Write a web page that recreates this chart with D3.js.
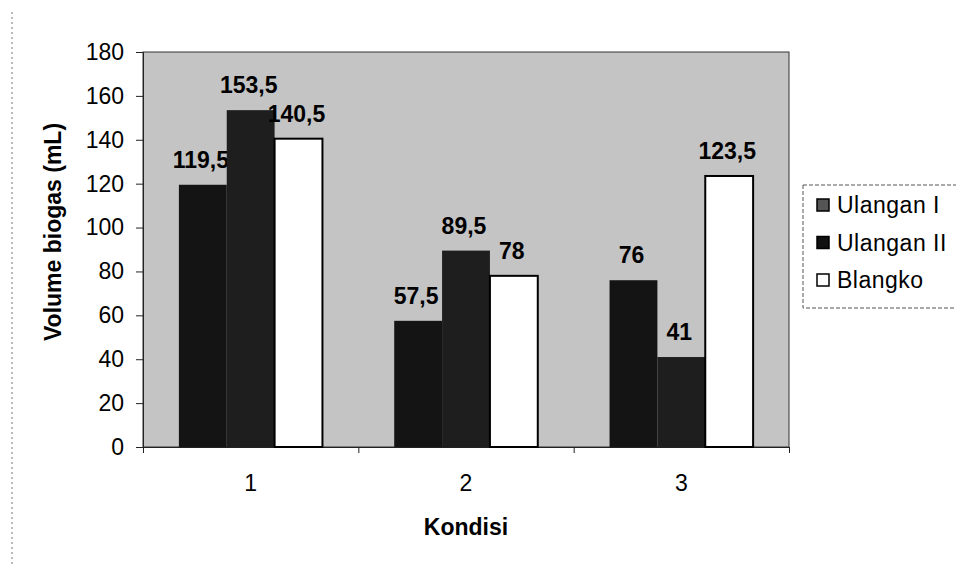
<!DOCTYPE html>
<html>
<head>
<meta charset="utf-8">
<script src="https://cdn.jsdelivr.net/npm/d3@7"></script>
<style>
  body { margin: 0; background: #fff; }
  text { font-family: "Liberation Sans", Arial, sans-serif; fill: #000; }
</style>
</head>
<body>
<svg id="chart" width="956" height="567"></svg>
<script>
const categories = ["1", "2", "3"];
const seriesNames = ["Ulangan I", "Ulangan II", "Blangko"];
const ulanganI = [119.5, 57.5, 76];
const ulanganII = [153.5, 89.5, 41];
const blangko = [140.5, 78, 123.5];
const yTicks = [0, 20, 40, 60, 80, 100, 120, 140, 160, 180];

const seriesValues = [ulanganI, ulanganII, blangko];
const fills = ["#141414", "#1e1e1e", "#ffffff"];

const svg = d3.select("#chart");
const plot = {left: 143, right: 789, top: 52, bottom: 447};

// faint scanned page edge
svg.append("line")
  .attr("x1", 12).attr("x2", 12).attr("y1", 12).attr("y2", 567)
  .attr("stroke", "#777").attr("stroke-dasharray", "2,3");

const x0 = d3.scaleBand()
  .domain(categories)
  .range([plot.left, plot.right])
  .paddingInner(1/3)
  .paddingOuter(1/6);

const x1 = d3.scaleBand()
  .domain(seriesNames)
  .range([0, x0.bandwidth()]);

const y = d3.scaleLinear()
  .domain([0, 180])
  .range([plot.bottom, plot.top]);

// plot area
svg.append("rect")
  .attr("x", plot.left).attr("y", plot.top)
  .attr("width", plot.right - plot.left).attr("height", plot.bottom - plot.top)
  .attr("fill", "#c4c4c4")
  .attr("stroke", "#333").attr("stroke-width", 1);

// axes
svg.append("g")
  .attr("transform", `translate(${plot.left},0)`)
  .call(d3.axisLeft(y).tickValues(yTicks).tickSize(7).tickPadding(12));

const xEdges = d3.axisBottom(d3.scaleLinear().domain([0, 3]).range([plot.left, plot.right]))
  .tickValues([0, 1, 2, 3]).tickSize(6).tickFormat("");
svg.append("g")
  .attr("transform", `translate(0,${plot.bottom})`)
  .call(xEdges);

const xAxis = svg.append("g")
  .attr("transform", `translate(0,${plot.bottom})`)
  .call(d3.axisBottom(x0).tickSize(0).tickPadding(28));
xAxis.select(".domain").remove();

svg.selectAll(".tick text")
  .attr("font-size", 23)
  .attr("font-family", "Liberation Sans, Arial, sans-serif");
svg.selectAll(".domain, .tick line").attr("stroke", "#222");

// bars + labels, series by series so later bars cover earlier labels
seriesNames.forEach((name, si) => {
  const vals = seriesValues[si];
  const g = svg.append("g");
  g.selectAll("rect")
    .data(categories)
    .join("rect")
      .attr("x", (c) => x0(c) + x1(name))
      .attr("y", (c, i) => y(vals[i]))
      .attr("width", x1.bandwidth())
      .attr("height", (c, i) => y(0) - y(vals[i]))
      .attr("fill", fills[si])
      .attr("stroke", si === 2 ? "#000" : "none")
      .attr("stroke-width", 2);
  g.selectAll("text")
    .data(categories)
    .join("text")
      .attr("x", (c) => x0(c) + x1(name) + x1.bandwidth() / 2 - 2)
      .attr("y", (c, i) => y(vals[i]) - 17)
      .attr("text-anchor", "middle")
      .attr("font-size", 23)
      .attr("font-weight", "bold")
      .text((c, i) => String(vals[i]).replace(".", ","));
});

// axis titles
svg.append("text")
  .attr("transform", "rotate(-90)")
  .attr("x", -232)
  .attr("y", 61)
  .attr("text-anchor", "middle")
  .attr("font-size", 23)
  .attr("font-weight", "bold")
  .text("Volume biogas (mL)");

svg.append("text")
  .attr("x", (plot.left + plot.right) / 2)
  .attr("y", 535)
  .attr("text-anchor", "middle")
  .attr("font-size", 23)
  .attr("font-weight", "bold")
  .text("Kondisi");

// legend
const legend = svg.append("g");
legend.append("rect")
  .attr("x", 803).attr("y", 185)
  .attr("width", 170).attr("height", 123)
  .attr("fill", "#fff")
  .attr("stroke", "#555").attr("stroke-dasharray", "4,2");

const swatchFills = ["#555", "#111", "#fff"];
const item = legend.selectAll("g.item")
  .data(seriesNames)
  .join("g")
    .attr("class", "item")
    .attr("transform", (d, i) => `translate(817,${205 + i * 37.5})`);
item.append("rect")
  .attr("x", 0).attr("y", -6)
  .attr("width", 12).attr("height", 12)
  .attr("fill", (d, i) => swatchFills[i])
  .attr("stroke", "#000").attr("stroke-width", 1.5);
item.append("text")
  .attr("x", 20)
  .attr("y", 8)
  .attr("font-size", 23)
  .attr("letter-spacing", 0.5)
  .text((d) => d);
</script>
</body>
</html>
